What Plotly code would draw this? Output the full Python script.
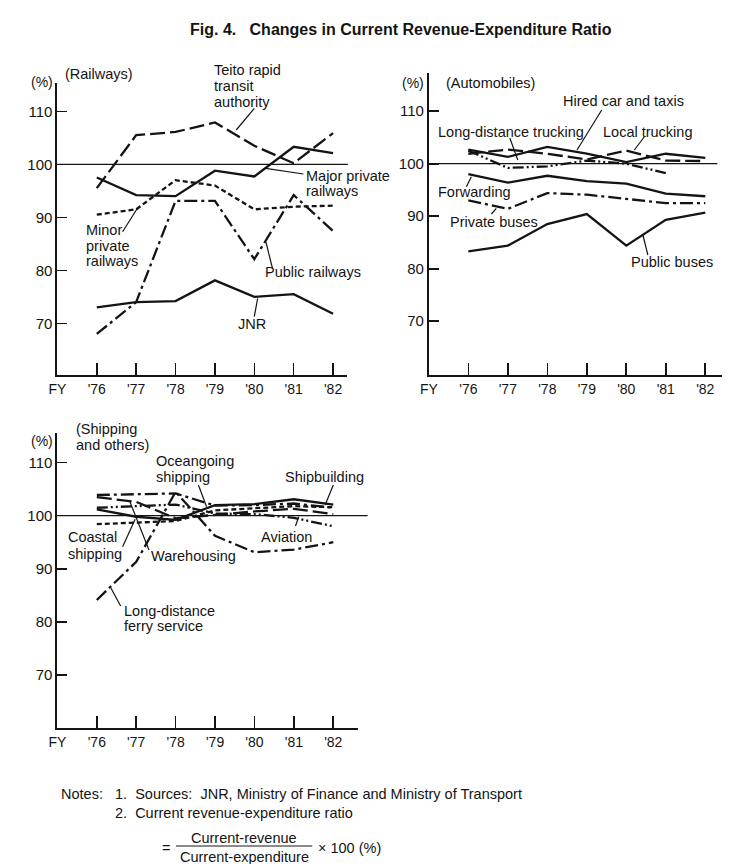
import plotly.graph_objects as go

W, H = 742, 864

years = [1976, 1977, 1978, 1979, 1980, 1981, 1982]
tick_years = [1975] + years
tick_text = ["FY", "'76", "'77", "'78", "'79", "'80", "'81", "'82"]
y_ticks = [70, 80, 90, 100, 110]

# Railways
rail_jnr = [73.0, 74.0, 74.2, 78.1, 75.0, 75.5, 71.8]
rail_public = [68.0, 74.0, 93.1, 93.1, 82.1, 94.2, 87.4]
rail_major = [97.5, 94.2, 94.0, 98.8, 97.7, 103.3, 102.1]
rail_minor = [90.5, 91.5, 97.0, 96.0, 91.5, 92.0, 92.2]
rail_teito = [95.5, 105.5, 106.1, 107.9, 103.5, 100.2, 105.9]

# Automobiles
auto_hired = [102.7, 101.3, 103.2, 101.9, 100.3, 101.9, 101.1]
auto_local = [101.9, 102.7, 101.9, 100.8, 102.5, 100.6, 100.5]
auto_longdist = [102.5, 99.2, 99.5, 100.6, 100.0, 98.2, None]
auto_forward = [98.0, 96.4, 97.7, 96.7, 96.2, 94.3, 93.8]
auto_private = [93.0, 91.4, 94.4, 94.1, 93.3, 92.5, 92.5]
auto_public = [83.3, 84.4, 88.5, 90.4, 84.4, 89.3, 90.7]

# Shipping and others
ship_ocean = [103.9, 104.1, 104.2, 101.9, 102.0, 102.3, 101.5]
ship_build = [101.2, 99.8, 99.2, 102.0, 102.2, 103.1, 102.1]
ship_coastal = [98.4, 98.7, 99.0, 101.0, 101.4, 101.8, 101.6]
ship_ware = [103.5, 102.6, 99.5, 100.2, 100.8, 101.3, 100.3]
ship_aviation = [101.5, 101.8, 102.1, 100.4, 100.3, 99.6, 98.0]
ship_ferry = [84.1, 91.3, 104.5, 96.2, 93.1, 93.6, 95.0]

INK = "#141414"
FONT = "Liberation Sans, Arial, Helvetica, sans-serif"
LW = 2.3

SOLID = "solid"
LONGDASH = "15px,5px"
SHORTDASH = "5px,3px"
DASHDOT = "13px,4px,3px,4px"
DASHDOTDOT = "11px,3px,2px,3px,2px,3px"


def px(x):
    return x / W


def py(y):
    return 1 - y / H


fig = go.Figure()

series = [
    ("x", "y", rail_jnr, SOLID), ("x", "y", rail_public, DASHDOT),
    ("x", "y", rail_major, SOLID), ("x", "y", rail_minor, SHORTDASH),
    ("x", "y", rail_teito, LONGDASH),
    ("x2", "y2", auto_hired, SOLID), ("x2", "y2", auto_local, LONGDASH),
    ("x2", "y2", auto_longdist, DASHDOTDOT), ("x2", "y2", auto_forward, SOLID),
    ("x2", "y2", auto_private, DASHDOT), ("x2", "y2", auto_public, SOLID),
    ("x3", "y3", ship_ocean, DASHDOT), ("x3", "y3", ship_build, SOLID),
    ("x3", "y3", ship_coastal, SHORTDASH), ("x3", "y3", ship_ware, LONGDASH),
    ("x3", "y3", ship_aviation, DASHDOTDOT), ("x3", "y3", ship_ferry, DASHDOT),
]
for xa, ya, vals, dash in series:
    fig.add_trace(go.Scatter(x=years, y=vals, mode="lines", xaxis=xa, yaxis=ya,
                             line=dict(color=INK, width=LW, dash=dash),
                             showlegend=False, hoverinfo="skip"))


def xaxis(dom, rng):
    return dict(domain=[px(dom[0]), px(dom[1])], range=rng, tickvals=tick_years,
                ticktext=tick_text, ticks="inside", ticklen=12, tickwidth=1.6,
                tickcolor=INK, showline=True, linewidth=2, linecolor=INK,
                showgrid=False, zeroline=False, fixedrange=True,
                tickfont=dict(family=FONT, size=14, color=INK))


def yaxis(dom, rng, anchor):
    return dict(domain=[py(dom[1]), py(dom[0])], range=rng, tickvals=y_ticks,
                ticks="inside", ticklen=10, tickwidth=1.6, tickcolor=INK,
                showline=True, linewidth=2, linecolor=INK, showgrid=False,
                zeroline=False, anchor=anchor, fixedrange=True,
                tickfont=dict(family=FONT, size=15, color=INK))


fig.update_layout(
    width=W, height=H, autosize=False,
    margin=dict(l=0, r=0, t=0, b=0),
    paper_bgcolor="white", plot_bgcolor="white",
    xaxis=dict(xaxis((49, 342), [1975.0, 1982.35]), anchor="y"),
    yaxis=yaxis((83, 375), [60.25, 115.34], "x"),
    xaxis2=dict(xaxis((425, 722), [1975.0, 1982.43]), anchor="y2"),
    yaxis2=yaxis((73, 375), [59.75, 117.28], "x2"),
    xaxis3=dict(xaxis((49, 353), [1975.0, 1982.62]), anchor="y3"),
    yaxis3=yaxis((433, 728.3), [59.89, 115.6], "x3"),
)

shapes = []
# 100% reference lines
for x0, x1, yy in [(49, 343, 164.3), (425, 717, 163.7), (49, 363, 515.7)]:
    shapes.append(dict(type="line", xref="paper", yref="paper", x0=px(x0), x1=px(x1),
                       y0=py(yy), y1=py(yy), line=dict(color=INK, width=1.3)))

leaders = [
    (248.3, 108.3, 230, 130), (260, 168.3, 298, 174), (115, 231.7, 130, 208.3),
    (266.7, 268.3, 260, 241.7), (248.3, 316.7, 251.7, 298.3),
    (600, 110, 575, 150), (507, 138, 515, 160), (643, 137, 633, 150),
    (468, 176.7, 463, 186.7), (493.3, 208.3, 488.3, 214), (646.7, 255, 641.7, 235),
    (191.7, 485, 200, 506.7), (328.3, 485, 320, 505), (115, 546.7, 127.7, 519.3),
    (141.7, 550, 121.7, 500), (290, 526, 293.3, 516.7), (113, 606, 103.3, 588.3),
]
for x0, y0, x1, y1 in leaders:
    shapes.append(dict(type="line", xref="paper", yref="paper", x0=px(x0), y0=py(y0),
                       x1=px(x1), y1=py(y1), line=dict(color=INK, width=1.2)))
# fraction bar
shapes.append(dict(type="line", xref="paper", yref="paper", x0=px(169), x1=px(307),
                   y0=py(846), y1=py(846), line=dict(color=INK, width=1)))
fig.update_layout(shapes=shapes)

annotations = []


def label(lines, x, ys, size=14.5, anchor="left", bold=False):
    for t, yy in zip(lines, ys):
        txt = f"<b>{t}</b>" if bold else t
        annotations.append(dict(text=txt, xref="paper", yref="paper", x=px(x), y=py(yy),
                                xanchor=anchor, yanchor="middle", showarrow=False,
                                borderpad=0, borderwidth=0,
                                font=dict(family=FONT, size=size, color=INK)))


label(["Fig. 4.   Changes in Current Revenue-Expenditure Ratio"], 397, [30], size=16,
      anchor="center", bold=True)
# Railways
label(["(%)"], 33, [82], anchor="center", size=14)
label(["(Railways)"], 57, [74])
label(["Teito rapid", "transit", "authority"], 208, [70, 86, 102])
label(["Major private", "railways"], 300.7, [176, 191.5])
label(["Minor", "private", "railways"], 78.3, [229.5, 245.5, 261.5])
label(["Public railways"], 259.3, [272.3])
label(["JNR"], 246, [324], anchor="center")
# Automobiles
label(["(%)"], 409, [83], anchor="center", size=14)
label(["(Automobiles)"], 442.7, [83.3])
label(["Hired car and taxis"], 560.7, [100.7])
label(["Long-distance trucking"], 434.3, [131.7])
label(["Local trucking"], 601.7, [131.7])
label(["Forwarding"], 434.3, [191.7])
label(["Private buses"], 446, [221.7])
label(["Public buses"], 630, [262])
# Shipping
label(["(%)"], 33.3, [440.7], anchor="center", size=14)
label(["(Shipping", "and others)"], 68.3, [429.5, 445])
label(["Oceangoing", "shipping"], 148.3, [461, 476.5])
label(["Shipbuilding"], 279.3, [477.3])
label(["Coastal", "shipping"], 59.3, [537.3, 553.5])
label(["Warehousing"], 143.3, [556])
label(["Aviation"], 255, [536.7])
label(["Long-distance", "ferry service"], 116, [610.5, 626])
# Notes
NS = 14.5
label(["Notes:"], 52.4, [794], size=NS)
label(["1.  Sources:  JNR, Ministry of Finance and Ministry of Transport",
       "2.  Current revenue-expenditure ratio"], 106.8, [794, 812.7], size=NS)
label(["="], 155, [847.7], size=NS)
label(["Current-revenue"], 238, [837.5], size=NS, anchor="center")
label(["Current-expenditure"], 238, [856.5], size=NS, anchor="center")
label(["× 100 (%)"], 312.6, [847.7], size=NS)
fig.update_layout(annotations=annotations)

fig.write_html("out.html",
               config={"displayModeBar": False, "staticPlot": True},
               post_script="document.body.style.margin='0px';"
                           "document.documentElement.style.margin='0px';")
